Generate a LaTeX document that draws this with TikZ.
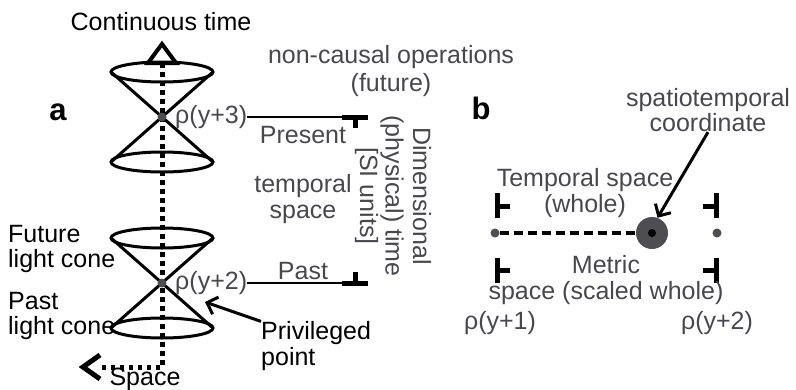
\documentclass[tikz,border=0pt]{standalone}
\usepackage{fontspec}
\setmainfont{Liberation Sans}
\usepackage{tikz}
\usetikzlibrary{arrows.meta,calc}
\definecolor{txtgray}{RGB}{72,72,76}
\definecolor{dotgray}{RGB}{78,78,82}

\begin{document}
\begin{tikzpicture}[x=1pt,y=-1pt,
	lbl/.style={font=\fontsize{25}{25.5}\selectfont,inner sep=0pt,align=center},
	grey/.style={lbl,text=txtgray},
	panel/.style={font=\fontsize{31}{32}\selectfont\bfseries,inner sep=0pt},
	cone/.style={line width=3pt},
	axis/.style={line width=5pt,dash pattern=on 4.5pt off 4.5pt},
	tickbar/.style={line width=5pt},
	pointer/.style={line width=3pt,-{Straight Barb[length=9pt,width=18pt]}},
	dot/.style={circle,fill=dotgray,inner sep=0pt,minimum size=9pt}
	]
	\useasboundingbox (0,0) rectangle (796,389);
	
	% panel a: light cones on the time axis
	\coordinate (ttop) at (162,63);
	\coordinate (tcorner) at (162,367);
	\coordinate (tend) at (97,367);
	\draw[axis] (ttop) -- (tcorner) -- (tend);
	\draw[line width=4pt,line join=miter] (148,63) -- (162,44) -- (176,63) -- cycle;
	\draw[line width=5pt,line join=miter] (100,355) -- (83,367) -- (100,379);
	
	\foreach \ya in {117,283}{
		\draw[cone] (162,\ya-45) ellipse [x radius=51pt,y radius=10pt];
		\draw[cone] (162,\ya+45) ellipse [x radius=51pt,y radius=10pt];
		\draw[cone] (111,\ya-45) -- (213,\ya+45);
		\draw[cone] (213,\ya-45) -- (111,\ya+45);
	}
	\node[dot] (apexA) at (162,117) {};
	\node[dot] (apexB) at (162,283) {};
	
	\node[lbl] (ctime) at (161,22) {Continuous time};
	\node[panel] (pa) at (58,112) {a};
	\node[lbl,align=left,anchor=west] (flc) at (8,249) {Future\\light cone};
	\node[lbl,align=left,anchor=west] (plc) at (8,316) {Past\\light cone};
	\node[lbl,align=left,anchor=west] (priv) at (261,346) {Privileged\\point};
	\node[lbl] (space) at (145,379) {Space};
	\coordinate (privtip) at (205,302);
	\draw[pointer] (priv.north west) -- (privtip);
	
	\node[grey,anchor=west] (rhoA) at (175,117) {ρ(y+3)};
	\node[grey,anchor=west] (rhoB) at (175,283) {ρ(y+2)};
	\coordinate (presend) at (368,117);
	\coordinate (pastend) at (368,283);
	\draw[line width=2pt] (rhoA.east) -- (presend);
	\draw[line width=2pt] (rhoB.east) -- (pastend);
	\draw[tickbar] (342,117) -- (presend);
	\draw[tickbar] (355,117) -- (355,128);
	\draw[tickbar] (342,283) -- (pastend);
	\draw[tickbar] (355,283) -- (355,272);
	
	\node[grey] (noncausal) at (391,71) {non-causal operations\\[3pt](future)};
	\node[grey] (present) at (303,135) {Present};
	\node[grey] (tspace) at (303,199) {temporal\\space};
	\node[grey] (past) at (303,271) {Past};
	\node[grey,rotate=-90] (dimtime) at (393,196) {Dimensional\\[2pt](physical) time\\{[SI units]}};
	
	% panel b: one temporal space
	\node[panel] (pb) at (481,108) {b};
	\node[dot] (rhoonept) at (495,233) {};
	\node[dot] (rhotwopt) at (717,233) {};
	\node[circle,fill=dotgray,inner sep=0pt,minimum size=32pt] (stpoint) at (652,233) {};
	\node[circle,fill=black,inner sep=0pt,minimum size=8pt] at (stpoint) {};
	\draw[line width=4pt,dash pattern=on 9pt off 5pt] (rhoonept) -- (stpoint);
	
	\draw[tickbar] (497,193) -- (497,218) (497,206) -- (510,206);
	\draw[tickbar] (716,193) -- (716,218) (716,206) -- (703,206);
	\draw[tickbar] (497,258) -- (497,283) (497,270) -- (510,270);
	\draw[tickbar] (716,258) -- (716,283) (716,270) -- (703,270);
	
	\node[grey] (stcoord) at (708,110) {spatiotemporal\\coordinate};
	\draw[pointer] (stcoord.south) -- (stpoint.70);
	\node[grey] (twhole) at (585,193) {Temporal space\\(whole)};
	\node[grey] (metric) at (606,280) {Metric\\space (scaled whole)};
	\node[grey] (rhoone) at (500,323) {ρ(y+1)};
	\node[grey] (rhotwo) at (717,323) {ρ(y+2)};
\end{tikzpicture}
\end{document}
